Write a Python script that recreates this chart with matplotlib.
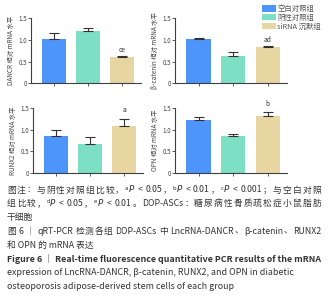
import re
import matplotlib
matplotlib.use("Agg")
import matplotlib.pyplot as plt
from matplotlib.patches import Patch

plt.rcParams['font.family'] = ['Noto Sans CJK SC', 'DejaVu Sans']

groups = ["空白对照组", "阴性对照组", "siRNA 沉默组"]
colors = ["#4d94fb", "#7ddfc3", "#e8d6a2"]

ylabels = ["DANCR 相对 mRNA 水平", "β-catenin 相对 mRNA 水平",
           "RUNX2 相对 mRNA 水平", "OPN 相对 mRNA 水平"]
means = [[1.02, 1.21, 0.61],
         [1.02, 0.64, 0.84],
         [0.85, 0.67, 1.09],
         [1.22, 0.86, 1.31]]
errs = [[0.13, 0.07, 0.01],
        [0.03, 0.08, 0.01],
        [0.15, 0.15, 0.16],
        [0.07, 0.03, 0.09]]
sig = [["", "", "ce"], ["", "", "ad"], ["", "", "a"], ["", "", "b"]]
sig_y = [[0, 0, 0.68], [0, 0, 0.90], [0, 0, 1.36], [0, 0, 1.50]]

# (text, weight, justified)
captions = [
    ("图注：与阴性对照组比较，ᵃP < 0.05，ᵇP < 0.01，ᶜP < 0.001；与空白对照", "normal", True),
    ("组比较，ᵈP < 0.05，ᵉP < 0.01。DOP-ASCs：糖尿病性骨质疏松症小鼠脂肪", "normal", True),
    ("干细胞", "normal", False),
    ("图 6 ｜ qRT-PCR 检测各组 DOP-ASCs 中 LncRNA-DANCR、β-catenin、RUNX2", "normal", True),
    ("和 OPN 的 mRNA 表达", "normal", False),
    ("Figure 6 ｜ Real-time fluorescence quantitative PCR results of the mRNA", "bold", False),
    ("expression of LncRNA-DANCR, β-catenin, RUNX2, and OPN in diabetic", "normal", False),
    ("osteoporosis adipose-derived stem cells of each group", "normal", False),
]

W, H = 333, 300
fig = plt.figure(figsize=(W / 100, H / 100), dpi=100)

boxes = [(31, 18.3, 110, 65), (175, 18.3, 112, 65),
         (33, 107.7, 110, 65.5), (175, 107.7, 112, 65.5)]

axc = "#404040"
x = [0, 1, 2]
for i, (l, t, w, h) in enumerate(boxes):
    ax = fig.add_axes([l / W, 1 - (t + h) / H, w / W, h / H])
    ax.bar(x, means[i], width=0.7, color=colors, zorder=2)
    ax.errorbar(x, means[i], yerr=[[0, 0, 0], errs[i]], fmt='none',
                ecolor="#333333", elinewidth=0.8, capsize=3.5, capthick=0.8, zorder=3)
    for j in range(3):
        if sig[i][j]:
            ax.text(x[j], sig_y[i][j], sig[i][j], ha='center', va='bottom',
                    fontsize=4.8, color="#333333", clip_on=False)
    ax.set_ylim(0, 1.5)
    ax.set_xlim(-0.68, 2.55)
    ax.set_yticks([0, 0.5, 1.0, 1.5])
    ax.set_yticklabels(["0", "0.5", "1.0", "1.5"])
    ax.set_xticks(x)
    ax.set_xticklabels([])
    for s in ["top", "right"]:
        ax.spines[s].set_visible(False)
    for s in ["left", "bottom"]:
        ax.spines[s].set_color(axc)
        ax.spines[s].set_linewidth(0.8)
    ax.tick_params(axis='both', colors=axc, labelcolor="#444444", labelsize=4.5,
                   length=2, width=0.6, pad=1)
    ax.set_ylabel(ylabels[i], fontsize=4.6, color="#444444", labelpad=2)

handles = [Patch(facecolor=c, edgecolor='none') for c in colors]
fig.legend(handles, groups, loc='upper left', bbox_to_anchor=(262 / W, 1 - 5 / H),
           frameon=False, fontsize=5.3, handlelength=1.85, handleheight=0.95,
           handletextpad=0.25, labelspacing=0.1, borderpad=0, borderaxespad=0,
           labelcolor="#555555")

# caption text, CJK lines justified like the source typesetting
renderer = fig.canvas.get_renderer()
FS = 6.3
FS_EN = 6.4
x0 = 7
right = 321
y0 = 190
dy = 13.8
TC = "#333333"
probe = fig.text(0, 0, "", fontsize=FS)


def width(s, wt):
    if not s:
        return 0.0
    probe.set_text(s)
    probe.set_fontweight(wt)
    return probe.get_window_extent(renderer).width


def draw_token(px, yy, t, wt):
    m = re.match(r'^([ᵃᵇᶜᵈᵉ])P$', t)
    if m:
        fig.text(px / W, yy, m.group(1), ha='left', va='center', fontsize=FS,
                 fontweight=wt, color=TC)
        px2 = px + width(m.group(1), wt) + 0.3
        fig.text(px2 / W, yy, "P", ha='left', va='center', fontsize=FS,
                 family=['DejaVu Sans'], fontstyle='italic', color=TC)
    else:
        fig.text(px / W, yy, t, ha='left', va='center', fontsize=FS,
                 fontweight=wt, color=TC)


for k, (txt, wt, just) in enumerate(captions):
    yy = 1 - (y0 + k * dy) / H
    if not just:
        fs = FS if re.search(r'[\u2E80-\uFFFF]', txt) and not txt.startswith("Figure") else FS_EN
        fig.text(x0 / W, yy, txt, ha='left', va='center', fontsize=fs,
                 fontweight=wt, color=TC)
        continue
    sw = width("a a", wt) - width("aa", wt)
    tokens = re.findall(r'[\u2E80-\uFFFF]|[^\s\u2E80-\uFFFF]+|\s+', txt)
    words = [(j, t) for j, t in enumerate(tokens) if not t.isspace()]
    full = width(txt, wt)
    gap = (right - x0 - full) / max(len(words) - 1, 1)
    for n, (j, t) in enumerate(words):
        pre = "".join(tokens[:j])
        st = pre.rstrip()
        off = width(st, wt) + (len(pre) - len(st)) * sw
        draw_token(x0 + off + n * gap, yy, t, wt)
probe.set_text("")

fig.savefig("out.png", dpi=100)
